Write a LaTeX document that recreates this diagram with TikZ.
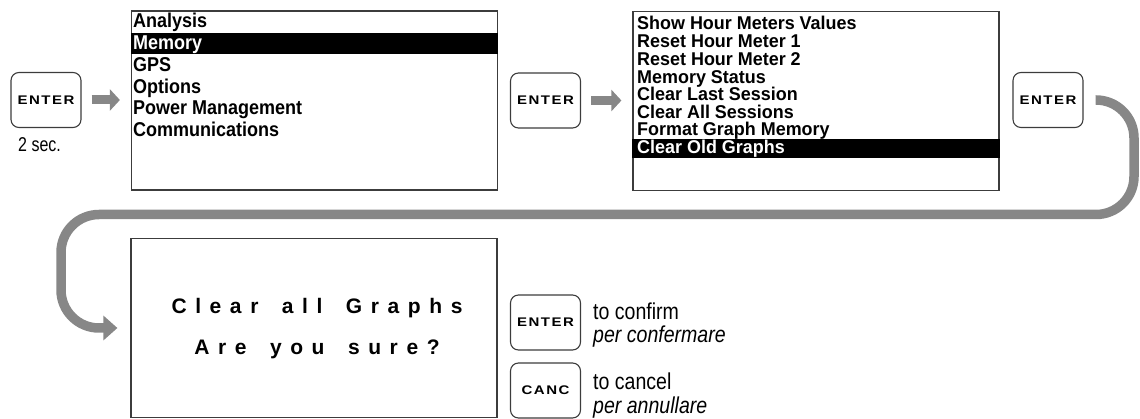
\documentclass[tikz,border=0pt]{standalone}
\usepackage{fontspec}
\setmainfont{Liberation Sans}
\newfontfamily\narrowfont[FakeStretch=0.8]{Liberation Sans}
\newfontfamily\notefont[FakeStretch=0.85]{Liberation Sans}
\newfontfamily\screenfont[FakeStretch=0.9]{Liberation Sans}
\newfontfamily\screenfontb[FakeStretch=0.97]{Liberation Sans}
\newfontfamily\keyfont[FakeStretch=1.2,LetterSpace=12]{Liberation Sans}
\newfontfamily\spacedfont[LetterSpace=41]{Liberation Sans}
\usetikzlibrary{arrows.meta}
\definecolor{arrowgray}{RGB}{135,135,135}
\definecolor{framegray}{RGB}{60,60,60}
\begin{document}
\begin{tikzpicture}[x=1pt,y=-1pt,
 key/.style={draw=framegray, line width=1.1pt, rounded corners=8pt, minimum width=70pt, minimum height=55pt, inner sep=0pt, font=\keyfont\bfseries\fontsize{12.5}{12.5}\selectfont},
 screen/.style={draw=framegray, line width=1.2pt, minimum width=366pt, minimum height=179pt, inner sep=0pt},
 row/.style={anchor=base west, inner sep=0pt, font=\screenfont\bfseries\fontsize{20}{20}\selectfont},
 sel/.style={row, text=white},
 rowb/.style={anchor=base west, inner sep=0pt, font=\screenfontb\bfseries\fontsize{18.5}{18.5}\selectfont},
 selb/.style={rowb, text=white},
 bar/.style={fill=black},
 blk/.style={draw=arrowgray, line width=9pt, -{Triangle[length=10pt,width=21pt]}, shorten <=10pt, shorten >=11pt},
 loopconn/.style={draw=arrowgray, line width=9.5pt, rounded corners=38pt, -{Triangle[length=14pt,width=24pt]}},
 note/.style={anchor=base west, inner sep=0pt, font=\notefont\fontsize{23}{23}\selectfont},
 ask/.style={anchor=base, inner sep=0pt, font=\spacedfont\bfseries\fontsize{21}{21}\selectfont}
]
\useasboundingbox (0,0) rectangle (1140,419);

% keys
\node[key] (k1) at (46,100) {ENTER};
\node[key] (k2) at (545.5,100.5) {ENTER};
\node[key] (k3) at (1048,100) {ENTER};
\node[key] (k4) at (545.5,322.5) {ENTER};
\node[key] (k5) at (545.5,390.5) {CANC};

\node[anchor=base west, inner sep=0pt, font=\narrowfont\fontsize{20}{20}\selectfont] (sec) at (18,152) {2 sec.};

% screens
\node[screen] (box1) at (314.5,100.5) {};
\node[screen] (box2) at (816,101) {};
\node[screen] (box3) at (314,328) {};

% highlight bars
\fill[bar] (box1.west |- 0,33) rectangle (box1.east |- 0,54);
\fill[bar] (box2.west |- 0,139) rectangle (box2.east |- 0,158);

% box 1 rows
\node[row] (a1) at (133,28) {Analysis};
\node[sel] (a2) at (133,50) {Memory};
\node[row] (a3) at (133,72) {GPS};
\node[row] (a4) at (133,93.5) {Options};
\node[row] (a5) at (133,115) {Power Management};
\node[row] (a6) at (133,137) {Communications};

% box 2 rows
\node[rowb] (b1) at (637,30) {Show Hour Meters Values};
\node[rowb] (b2) at (637,48) {Reset Hour Meter 1};
\node[rowb] (b3) at (637,66) {Reset Hour Meter 2};
\node[rowb] (b4) at (637,83.5) {Memory Status};
\node[rowb] (b5) at (637,101) {Clear Last Session};
\node[rowb] (b6) at (637,118.5) {Clear All Sessions};
\node[rowb] (b7) at (637,136) {Format Graph Memory};
\node[selb] (b8) at (637,153.5) {Clear Old Graphs};

% box 3 text
\node[ask] (q1) at (317,314) {Clear\hspace{9pt} all\hspace{9pt} Graphs};
\node[ask] (q2) at (317,355) {Are\hspace{9pt} you\hspace{9pt} sure?};

% notes
\node[note] (n1) at (593,320) {to confirm};
\node[note] (n2) at (593,343) {\itshape per confermare};
\node[note] (n3) at (593,389) {to cancel};
\node[note] (n4) at (593,413) {\itshape per annullare};

% arrows
\draw[blk] (k1.east) -- (k1.east -| box1.west);
\draw[blk] (k2.east) -- (k2.east -| box2.west);

\coordinate (rx) at (1134,0);
\coordinate (lx) at (61,0);
\coordinate (mid) at (0,214.5);
\draw[loopconn] ([xshift=12pt]k3.east) -- (k3.east -| rx) -- (rx |- mid) -- (lx |- mid) -- (lx |- box3.west) -- ([xshift=-13pt]box3.west);
\end{tikzpicture}
\end{document}
